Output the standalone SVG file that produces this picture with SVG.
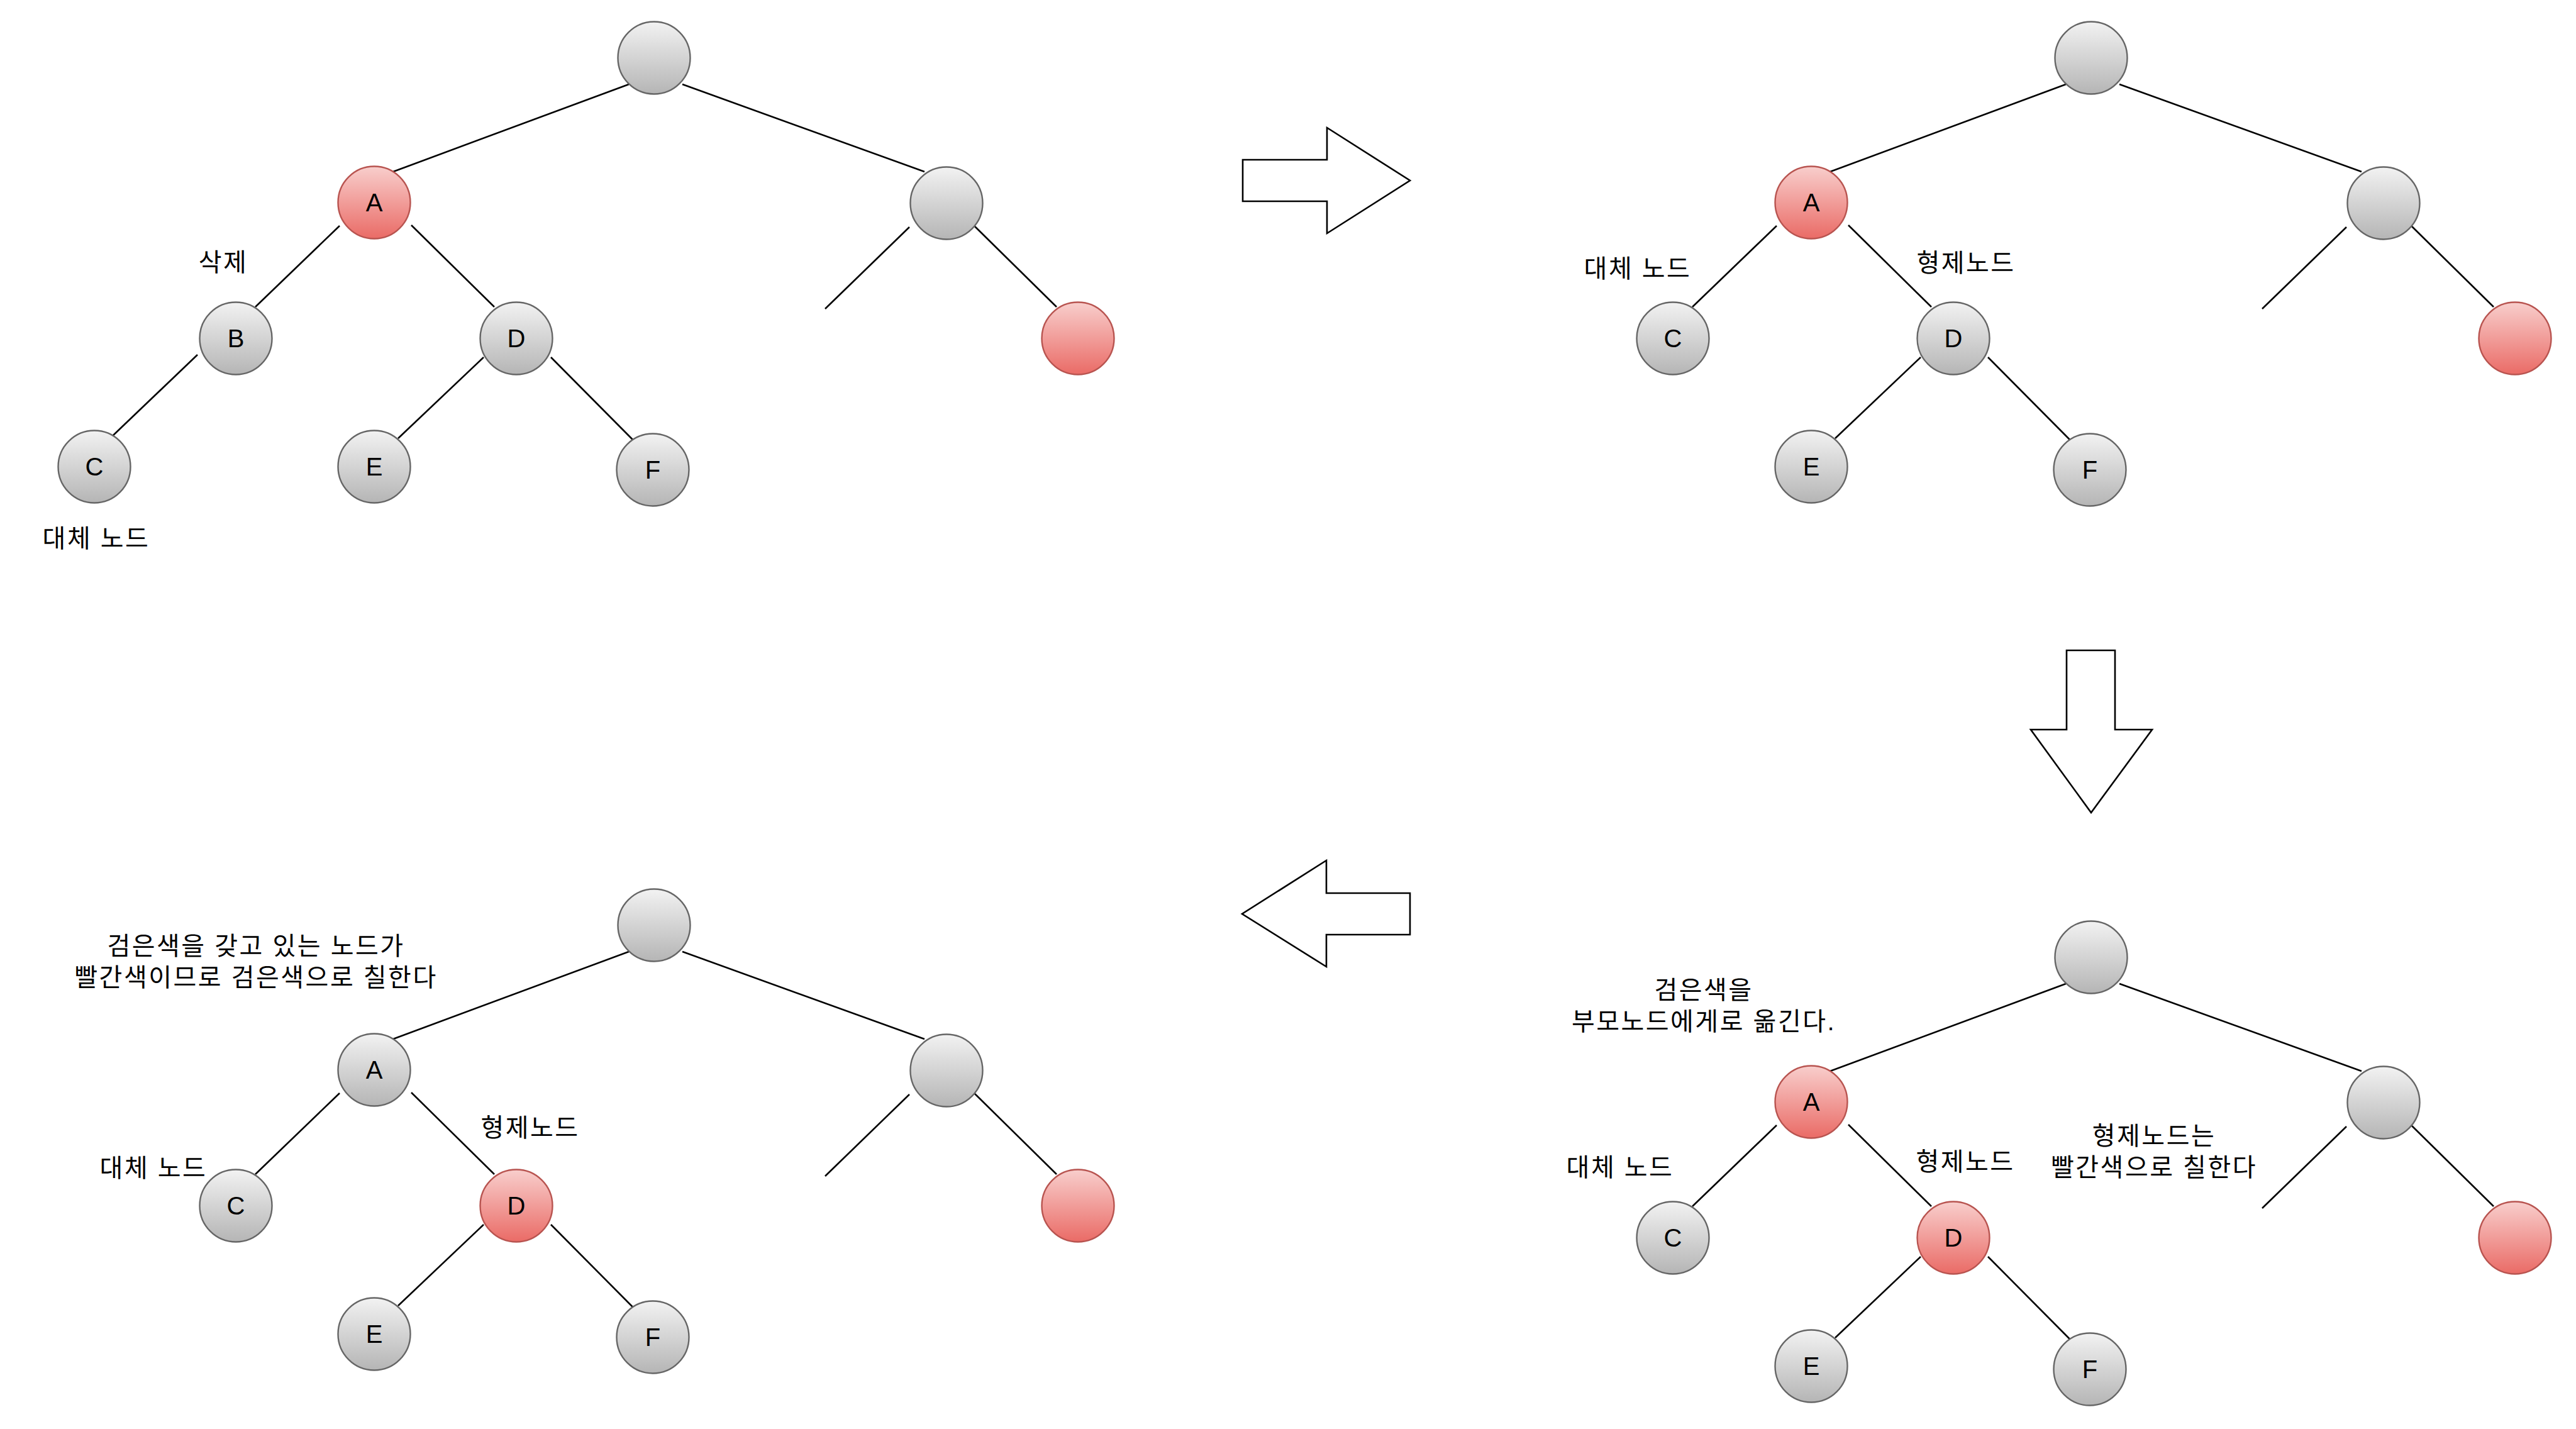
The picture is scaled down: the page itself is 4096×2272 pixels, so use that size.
<svg xmlns="http://www.w3.org/2000/svg" width="4096" height="2272" viewBox="0 0 4096 2272">
<defs>
<linearGradient id="gGray" x1="0" y1="0" x2="0" y2="1"><stop offset="0" stop-color="#f2f2f2"/><stop offset="1" stop-color="#b5b5b5"/></linearGradient>
<linearGradient id="gRed" x1="0" y1="0" x2="0" y2="1"><stop offset="0" stop-color="#f8cecc"/><stop offset="1" stop-color="#ea6b66"/></linearGradient>
<style>
.gray{fill:url(#gGray);stroke:#666666;stroke-width:2.4}
.red{fill:url(#gRed);stroke:#b85450;stroke-width:2.4}
.edges line{stroke:#000000;stroke-width:2.6;fill:none}
.arrow{fill:#ffffff;stroke:#000000;stroke-width:2.6;stroke-linejoin:miter}
text{font-family:"Liberation Sans","Noto Sans CJK KR",sans-serif;font-size:40px;fill:#000000;text-anchor:middle}
.ko{letter-spacing:2.5px}
</style>
</defs>
<rect width="4096" height="2272" fill="#ffffff"/>

<!-- Panel 1 -->
<g id="panel1">
<g id="p1-connectors" class="edges">
<line x1="1000" y1="134" x2="625" y2="273"/>
<line x1="1085" y1="134" x2="1470" y2="273"/>
<line x1="540" y1="359" x2="406" y2="488"/>
<line x1="654" y1="358" x2="786" y2="488"/>
<line x1="314" y1="564" x2="179" y2="693"/>
<line x1="769" y1="568" x2="633" y2="697"/>
<line x1="876" y1="568" x2="1006" y2="699"/>
<line x1="1446" y1="361" x2="1312" y2="491"/>
<line x1="1548" y1="358" x2="1680" y2="488"/>
</g>
<g id="p1-root"><circle class="gray" cx="1040" cy="92" r="57.5"/></g>
<g id="p1-A"><circle class="red" cx="595" cy="322" r="57.5"/><text x="595" y="336">A</text></g>
<g id="p1-R"><circle class="gray" cx="1505" cy="323" r="57.5"/></g>
<g id="p1-B"><circle class="gray" cx="375" cy="538" r="57.5"/><text x="375" y="552">B</text></g>
<g id="p1-D"><circle class="gray" cx="821" cy="538" r="57.5"/><text x="821" y="552">D</text></g>
<g id="p1-C"><circle class="gray" cx="150" cy="742" r="57.5"/><text x="150" y="756">C</text></g>
<g id="p1-E"><circle class="gray" cx="595" cy="742" r="57.5"/><text x="595" y="756">E</text></g>
<g id="p1-F"><circle class="gray" cx="1038" cy="747" r="57.5"/><text x="1038" y="761">F</text></g>
<g id="p1-RR"><circle class="red" cx="1714" cy="538" r="57.5"/></g>
<g id="p1-label-delete"><text class="ko" x="355" y="431">삭제</text></g>
<g id="p1-label-replace"><text class="ko" x="153" y="870">대체 노드</text></g>
</g>

<!-- Arrow right -->
<g id="arrow-right"><polygon class="arrow" points="1976,254 2110,254 2110,203 2242,287 2110,371 2110,320 1976,320"/></g>

<!-- Panel 2 -->
<g id="panel2" transform="translate(2285,0)">
<g id="p2-connectors" class="edges">
<line x1="1000" y1="134" x2="625" y2="273"/>
<line x1="1085" y1="134" x2="1470" y2="273"/>
<line x1="540" y1="359" x2="406" y2="488"/>
<line x1="654" y1="358" x2="786" y2="488"/>
<line x1="769" y1="568" x2="633" y2="697"/>
<line x1="876" y1="568" x2="1006" y2="699"/>
<line x1="1446" y1="361" x2="1312" y2="491"/>
<line x1="1548" y1="358" x2="1680" y2="488"/>
</g>
<g id="p2-root"><circle class="gray" cx="1040" cy="92" r="57.5"/></g>
<g id="p2-A"><circle class="red" cx="595" cy="322" r="57.5"/><text x="595" y="336">A</text></g>
<g id="p2-R"><circle class="gray" cx="1505" cy="323" r="57.5"/></g>
<g id="p2-C"><circle class="gray" cx="375" cy="538" r="57.5"/><text x="375" y="552">C</text></g>
<g id="p2-D"><circle class="gray" cx="821" cy="538" r="57.5"/><text x="821" y="552">D</text></g>
<g id="p2-E"><circle class="gray" cx="595" cy="742" r="57.5"/><text x="595" y="756">E</text></g>
<g id="p2-F"><circle class="gray" cx="1038" cy="747" r="57.5"/><text x="1038" y="761">F</text></g>
<g id="p2-RR"><circle class="red" cx="1714" cy="538" r="57.5"/></g>
<g id="p2-label-replace"><text class="ko" x="319" y="441">대체 노드</text></g>
<g id="p2-label-sibling"><text class="ko" x="841" y="432">형제노드</text></g>
</g>

<!-- Arrow down -->
<g id="arrow-down"><polygon class="arrow" points="3286,1034 3363,1034 3363,1160 3422,1160 3325,1292 3229,1160 3286,1160"/></g>

<!-- Panel 4 (bottom right) -->
<g id="panel4" transform="translate(2285,1430)">
<g id="p4-connectors" class="edges">
<line x1="1000" y1="134" x2="625" y2="273"/>
<line x1="1085" y1="134" x2="1470" y2="273"/>
<line x1="540" y1="359" x2="406" y2="488"/>
<line x1="654" y1="358" x2="786" y2="488"/>
<line x1="769" y1="568" x2="633" y2="697"/>
<line x1="876" y1="568" x2="1006" y2="699"/>
<line x1="1446" y1="361" x2="1312" y2="491"/>
<line x1="1548" y1="358" x2="1680" y2="488"/>
</g>
<g id="p4-root"><circle class="gray" cx="1040" cy="92" r="57.5"/></g>
<g id="p4-A"><circle class="red" cx="595" cy="322" r="57.5"/><text x="595" y="336">A</text></g>
<g id="p4-R"><circle class="gray" cx="1505" cy="323" r="57.5"/></g>
<g id="p4-C"><circle class="gray" cx="375" cy="538" r="57.5"/><text x="375" y="552">C</text></g>
<g id="p4-D"><circle class="red" cx="821" cy="538" r="57.5"/><text x="821" y="552">D</text></g>
<g id="p4-E"><circle class="gray" cx="595" cy="742" r="57.5"/><text x="595" y="756">E</text></g>
<g id="p4-F"><circle class="gray" cx="1038" cy="747" r="57.5"/><text x="1038" y="761">F</text></g>
<g id="p4-RR"><circle class="red" cx="1714" cy="538" r="57.5"/></g>
<g id="p4-label-move"><text class="ko" x="424" y="158">검은색을</text><text class="ko" x="424" y="208">부모노드에게로 옮긴다.</text></g>
<g id="p4-label-replace"><text class="ko" x="291" y="440">대체 노드</text></g>
<g id="p4-label-sibling"><text class="ko" x="840" y="431">형제노드</text></g>
<g id="p4-label-paint"><text class="ko" x="1140" y="390">형제노드는</text><text class="ko" x="1140" y="440">빨간색으로 칠한다</text></g>
</g>

<!-- Arrow left -->
<g id="arrow-left"><polygon class="arrow" points="2242,1420 2109,1420 2109,1368 1975,1453 2109,1537 2109,1486 2242,1486"/></g>

<!-- Panel 3 (bottom left) -->
<g id="panel3" transform="translate(0,1379)">
<g id="p3-connectors" class="edges">
<line x1="1000" y1="134" x2="625" y2="273"/>
<line x1="1085" y1="134" x2="1470" y2="273"/>
<line x1="540" y1="359" x2="406" y2="488"/>
<line x1="654" y1="358" x2="786" y2="488"/>
<line x1="769" y1="568" x2="633" y2="697"/>
<line x1="876" y1="568" x2="1006" y2="699"/>
<line x1="1446" y1="361" x2="1312" y2="491"/>
<line x1="1548" y1="358" x2="1680" y2="488"/>
</g>
<g id="p3-root"><circle class="gray" cx="1040" cy="92" r="57.5"/></g>
<g id="p3-A"><circle class="gray" cx="595" cy="322" r="57.5"/><text x="595" y="336">A</text></g>
<g id="p3-R"><circle class="gray" cx="1505" cy="323" r="57.5"/></g>
<g id="p3-C"><circle class="gray" cx="375" cy="538" r="57.5"/><text x="375" y="552">C</text></g>
<g id="p3-D"><circle class="red" cx="821" cy="538" r="57.5"/><text x="821" y="552">D</text></g>
<g id="p3-E"><circle class="gray" cx="595" cy="742" r="57.5"/><text x="595" y="756">E</text></g>
<g id="p3-F"><circle class="gray" cx="1038" cy="747" r="57.5"/><text x="1038" y="761">F</text></g>
<g id="p3-RR"><circle class="red" cx="1714" cy="538" r="57.5"/></g>
<g id="p3-label-paint"><text class="ko" x="407" y="139">검은색을 갖고 있는 노드가</text><text class="ko" x="407" y="189">빨간색이므로 검은색으로 칠한다</text></g>
<g id="p3-label-sibling"><text class="ko" x="843" y="428">형제노드</text></g>
<g id="p3-label-replace"><text class="ko" x="244" y="492">대체 노드</text></g>
</g>
</svg>
